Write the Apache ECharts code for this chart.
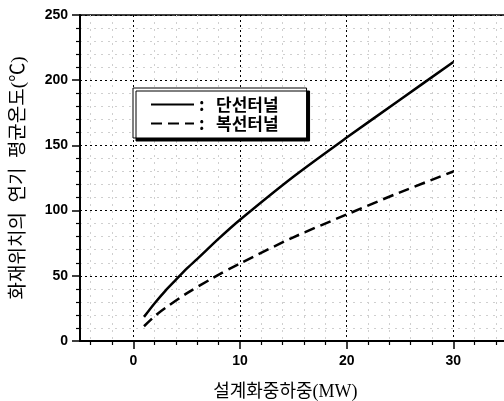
<!DOCTYPE html>
<html>
<head>
<meta charset="utf-8">
<script src="https://cdn.jsdelivr.net/npm/echarts@6/dist/echarts.min.js"></script>
<style>html,body{margin:0;padding:0;background:#fff}#c{width:504px;height:401px}</style>
</head>
<body>
<div id="c"></div>
<script>
const seriesNames = ['단선터널', '복선터널'];
const loadSingle = [1, 2, 3, 4, 5, 6, 8, 10, 15, 20, 25, 30];
const tempSingle = [18.5, 29, 38.5, 47, 55.5, 63, 78.5, 93, 126, 156, 185, 214];
const loadDouble = [1, 2, 3, 5, 7.5, 10, 15, 20, 25, 30];
const tempDouble = [11.3, 19, 25.3, 36.5, 48.5, 59.5, 79.5, 97, 114, 130];
const xMajorTicks = [0, 10, 20, 30];
const xMinorTicks = [-4, -2, 2, 4, 6, 8, 12, 14, 16, 18, 22, 24, 26, 28, 32, 34];
const xTitle = '설계화중하중(MW)';
const yTitle = '화재위치의  연기  평균온도(℃)';

const pairs = (xs, ys) => xs.map((x, i) => [x, ys[i]]);
const serifKR = '"Liberation Serif", "Noto Sans CJK KR", serif';
const tickFont = '"Liberation Sans", Arial, sans-serif';

const chart = echarts.init(document.getElementById('c'), null, {renderer: 'canvas'});
chart.setOption({
  animation: false,
  backgroundColor: '#fff',
  grid: {left: 80, top: 15, width: 426.7, height: 326, outerBoundsMode: 'none', containLabel: false,
    show: true, borderColor: '#000', borderWidth: 1.5, backgroundColor: 'transparent'},
  legend: {
    orient: 'vertical', left: 133, top: 88,
    padding: [8, 28, 6, 17],
    itemWidth: 43, itemHeight: 14, itemGap: 2,
    borderColor: '#000', borderWidth: 1, backgroundColor: '#fff',
    shadowColor: '#000', shadowOffsetX: 3, shadowOffsetY: 3, shadowBlur: 0,
    itemStyle: {opacity: 0},
    data: seriesNames,
    formatter: name => '{c|:}{t|' + name + '}',
    textStyle: {
      color: '#000',
      rich: {
        c: {width: 17, fontSize: 17, lineHeight: 18, fontWeight: 'bold', fontFamily: '"Noto Sans CJK KR"', color: '#000'},
        t: {fontSize: 17, lineHeight: 18, fontWeight: 'bold', fontFamily: '"Noto Sans CJK KR"', color: '#000'}
      }
    }
  },
  xAxis: [{
    type: 'value', min: -5, max: 35,
    name: xTitle, nameLocation: 'middle', nameGap: 42,
    nameTextStyle: {fontSize: 18, fontFamily: serifKR, color: '#000', padding: [0, 16, 0, 0]},
    axisLine: {show: true, onZero: false, lineStyle: {color: '#000', width: 2}},
    axisTick: {show: true, inside: false, length: 8, customValues: xMajorTicks, lineStyle: {color: '#000', width: 1.5}},
    axisLabel: {customValues: xMajorTicks, margin: 13, fontSize: 14, fontWeight: 'bold', fontFamily: tickFont, color: '#000'},
    splitLine: {show: true, customValues: xMajorTicks, lineStyle: {color: '#000', type: [2, 3], width: 1}}
  }, {
    type: 'value', min: -5, max: 35, position: 'bottom',
    axisLine: {show: false, onZero: false},
    axisTick: {show: true, inside: false, length: 4, customValues: xMinorTicks, lineStyle: {color: '#000', width: 1.2}},
    axisLabel: {show: false},
    splitLine: {show: true, customValues: xMinorTicks, lineStyle: {color: '#cfcfcf', type: [2, 5], width: 1}}
  }],
  yAxis: {
    type: 'value', min: 0, max: 250, interval: 50,
    name: yTitle, nameLocation: 'middle', nameGap: 51, nameRotate: 90,
    nameTextStyle: {fontSize: 19, fontFamily: serifKR, color: '#000'},
    axisLine: {show: true, onZero: false, lineStyle: {color: '#000', width: 2}},
    axisTick: {show: true, inside: false, length: 8, lineStyle: {color: '#000', width: 1.5}},
    minorTick: {show: true, splitNumber: 5, length: 4, lineStyle: {color: '#000', width: 1.2}},
    axisLabel: {margin: 12, fontSize: 14, fontWeight: 'bold', fontFamily: tickFont, color: '#000'},
    splitLine: {show: true, lineStyle: {color: '#000', type: [2, 3], width: 1}},
    minorSplitLine: {show: true, lineStyle: {color: '#cfcfcf', type: [2, 5], width: 1}}
  },
  series: [{
    name: seriesNames[0], type: 'line', xAxisIndex: 0,
    data: pairs(loadSingle, tempSingle), smooth: 0.3, symbol: 'none',
    lineStyle: {color: '#000', width: 2.5}, itemStyle: {color: '#000'}
  }, {
    name: seriesNames[1], type: 'line', xAxisIndex: 0,
    data: pairs(loadDouble, tempDouble), smooth: 0.3, symbol: 'none',
    lineStyle: {color: '#000', width: 2.5, type: [11, 6]}, itemStyle: {color: '#000'}
  }]
});
</script>
</body>
</html>
